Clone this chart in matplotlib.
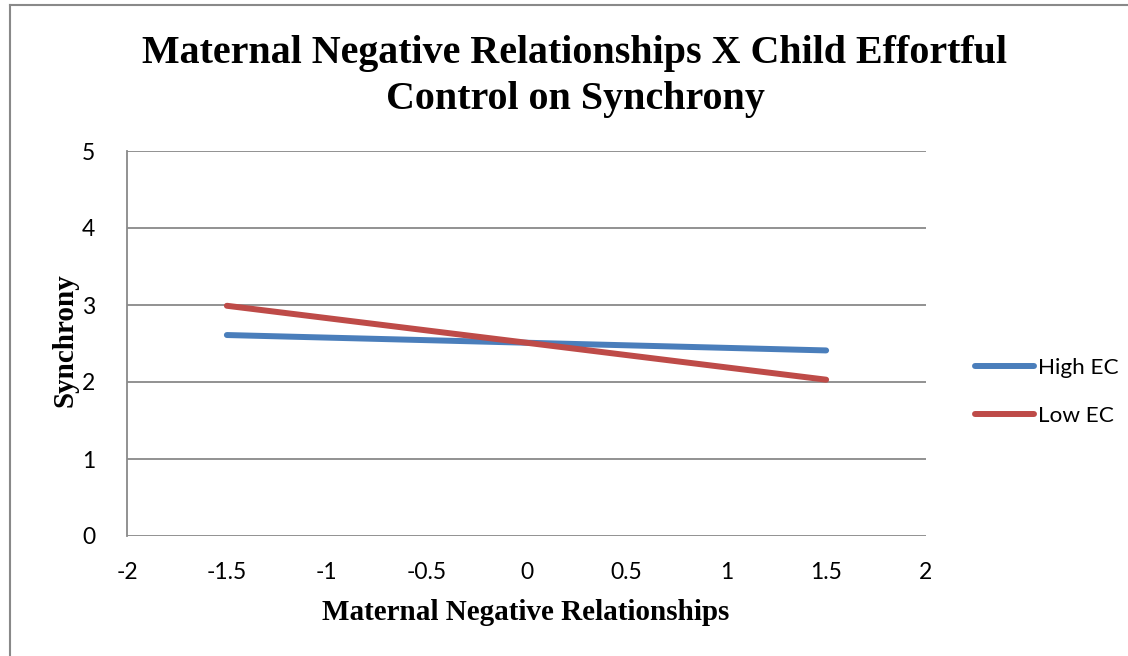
import matplotlib
matplotlib.use("Agg")
import matplotlib.pyplot as plt
from matplotlib.lines import Line2D

x_values = [-1.5, 0, 1.5]
high_ec = [2.61, 2.51, 2.41]
low_ec = [2.99, 2.51, 2.03]
series_names = ["High EC", "Low EC"]
x_ticks = [-2, -1.5, -1, -0.5, 0, 0.5, 1, 1.5, 2]
y_ticks = [0, 1, 2, 3, 4, 5]

W, H = 1128, 656
fig = plt.figure(figsize=(W / 100, H / 100), dpi=100)
ax = fig.add_axes([127 / W, 1 - 536 / H, (926 - 127) / W, (536 - 151) / H])

blue = "#4A7EBB"
red = "#BE4B48"
grid_c = "#898989"
lw = 4.3

ax.plot(x_values, high_ec, color=blue, lw=lw, solid_capstyle="round", label=series_names[0], zorder=3)
ax.plot(x_values, low_ec, color=red, lw=lw, solid_capstyle="round", label=series_names[1], zorder=3)

ax.set_xlim(-2, 2)
ax.set_ylim(0, 5)
ax.set_xticks(x_ticks)
ax.set_xticklabels([f"{t:g}" for t in x_ticks])
ax.set_yticks(y_ticks)
ax.set_yticklabels([str(t) for t in y_ticks])
ax.tick_params(length=0, labelsize=16.5, pad=0)
for lab in ax.get_xticklabels() + ax.get_yticklabels():
    lab.set_fontfamily("Lato")
ax.tick_params(axis="x", pad=19)
ax.tick_params(axis="y", pad=23)

ax.grid(axis="y", color=grid_c, lw=1.3)
ax.set_axisbelow(True)
for s in ["top", "right", "bottom"]:
    ax.spines[s].set_visible(False)
ax.spines["left"].set_color(grid_c)
ax.spines["left"].set_linewidth(1.3)

fig.text(526 / W, 1 - 613 / H, "Maternal Negative Relationships", ha="center", va="center",
         fontfamily="Liberation Serif", fontweight="bold", fontsize=21)
fig.text(65 / W, 1 - 340 / H, "Synchrony", ha="center", va="center", rotation=90,
         fontfamily="Liberation Serif", fontweight="bold", fontsize=21)

fig.text(575 / W, 1 - 53 / H, "Maternal Negative Relationships X Child Effortful",
         ha="center", va="center", fontfamily="Liberation Serif", fontweight="bold", fontsize=28.8)
fig.text(575 / W, 1 - 100 / H, "Control on Synchrony",
         ha="center", va="center", fontfamily="Liberation Serif", fontweight="bold", fontsize=28.8)

handles = [Line2D([], [], color=blue, lw=lw, solid_capstyle="round"),
           Line2D([], [], color=red, lw=lw, solid_capstyle="round")]
leg = fig.legend(handles, series_names, loc="center left",
                 bbox_to_anchor=(955 / W, 1 - 392 / H), frameon=False,
                 prop={"family": "Lato", "size": 16.2}, handlelength=2.6,
                 handletextpad=0.2, labelspacing=1.25)

# chart border
fig.add_artist(Line2D([10 / W, 10 / W], [0, 1 - 5 / H], transform=fig.transFigure, color=grid_c, lw=1.5))
fig.add_artist(Line2D([10 / W, 1], [1 - 5 / H, 1 - 5 / H], transform=fig.transFigure, color=grid_c, lw=1.5))

fig.savefig("out.png", dpi=100)
